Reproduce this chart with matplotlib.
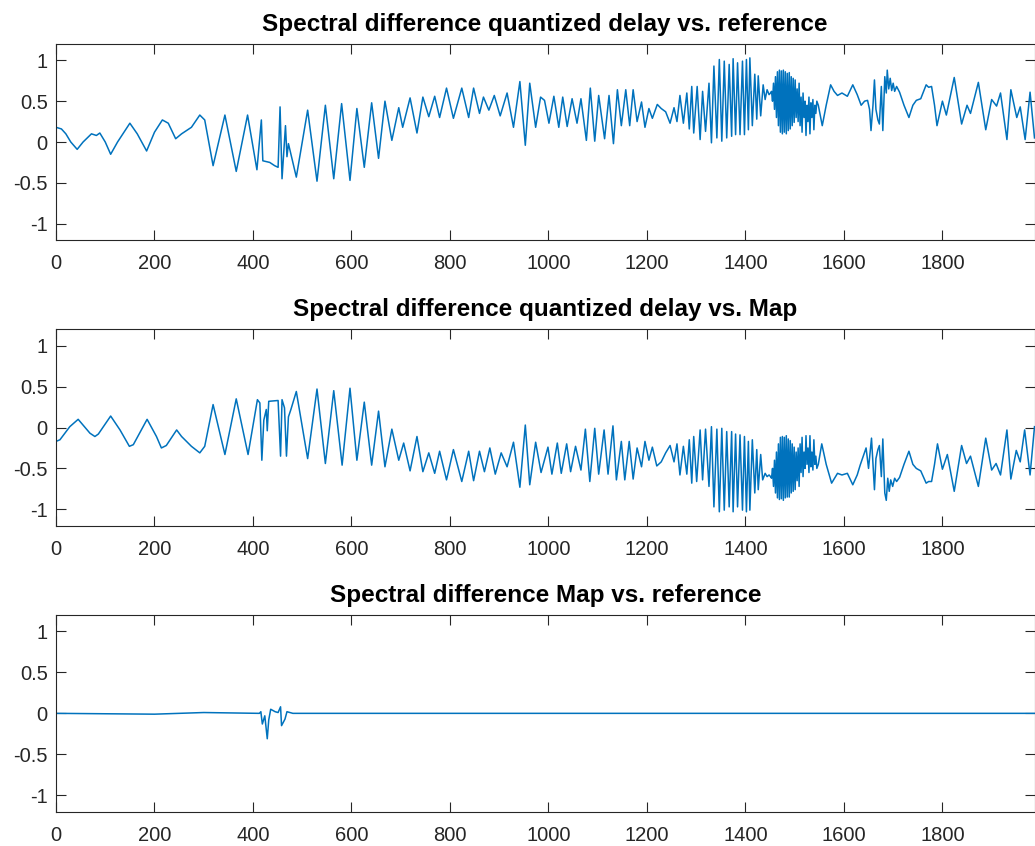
import matplotlib
matplotlib.use("Agg")
import matplotlib.pyplot as plt

titles = ["Spectral difference quantized delay vs. reference",
          "Spectral difference quantized delay vs. Map",
          "Spectral difference Map vs. reference"]
xticks = [0, 200, 400, 600, 800, 1000, 1200, 1400, 1600, 1800]
yticks = [-1, -0.5, 0, 0.5, 1]
ytick_labels = ["-1", "-0.5", "0", "0.5", "1"]

# panel 1: quantized delay vs reference
p1_x = [0, 11, 20, 30, 43, 55, 72, 82, 89, 100, 111, 125, 150, 165, 184, 200, 216, 228, 243, 255,
        275, 292, 302, 319, 343, 366, 389, 408, 417, 420, 434, 444, 451, 455, 459, 466, 469, 472, 488, 511,
        530, 547, 564, 580, 597, 611, 626, 641, 655, 668, 682, 696, 704, 719, 733, 745, 757, 769, 779, 793,
        807, 824, 838, 848, 860, 868, 879, 890, 902, 916, 929, 942, 953, 962, 974, 984, 992, 1001, 1011, 1021,
        1029, 1038, 1048, 1058, 1066, 1077, 1085, 1094, 1102, 1114, 1123, 1132, 1140, 1148, 1157, 1165, 1172, 1180, 1189, 1196,
        1204, 1211, 1221, 1229, 1238, 1247, 1255, 1261, 1267, 1274, 1281, 1286, 1291, 1295, 1302, 1308, 1313, 1319, 1326, 1331,
        1336, 1342, 1347, 1352, 1357, 1362, 1367, 1372, 1375, 1380, 1384, 1389, 1394, 1398, 1402, 1406, 1409, 1414, 1419, 1423,
        1426, 1431, 1436, 1440, 1444, 1448, 1451,
        1453, 1455, 1457, 1459, 1461, 1463, 1465, 1467, 1469, 1471, 1473, 1475, 1477, 1479, 1481, 1483, 1485, 1487, 1489, 1491,
        1493, 1495, 1497, 1499, 1501, 1503,
        1505, 1507, 1509, 1511, 1513, 1515, 1517, 1519, 1521, 1523, 1525, 1527, 1529, 1531, 1533, 1535, 1537, 1539, 1541, 1543, 1545,
        1548, 1556, 1564, 1573, 1580, 1587, 1596, 1607, 1618, 1627, 1635, 1642, 1648, 1652, 1655, 1659, 1662, 1665, 1669, 1672,
        1676, 1679, 1683, 1686, 1688, 1691, 1694, 1697, 1700, 1703, 1707, 1713, 1722, 1732, 1740, 1747, 1756, 1767, 1772, 1778,
        1784, 1789, 1800, 1808, 1824, 1839, 1850, 1857, 1873, 1888, 1900, 1910, 1918, 1931, 1939, 1951, 1958, 1968, 1978, 1987]
p1_y = [0.18, 0.16, 0.10, 0.0, -0.09, 0.0, 0.10, 0.08, 0.11, 0.0, -0.15, 0.0, 0.23, 0.10, -0.11, 0.12, 0.27, 0.23, 0.04, 0.10,
        0.18, 0.33, 0.27, -0.29, 0.33, -0.36, 0.33, -0.34, 0.27, -0.23, -0.25, -0.29, -0.31, 0.43, -0.45, 0.20, -0.18, -0.02, -0.43, 0.39,
        -0.48, 0.45, -0.45, 0.47, -0.47, 0.41, -0.31, 0.48, -0.20, 0.50, 0.02, 0.42, 0.18, 0.54, 0.11, 0.55, 0.31, 0.56, 0.30, 0.66,
        0.29, 0.66, 0.30, 0.66, 0.35, 0.55, 0.39, 0.57, 0.32, 0.60, 0.18, 0.74, -0.04, 0.72, 0.18, 0.55, 0.51, 0.23, 0.56, 0.18,
        0.55, 0.19, 0.53, 0.23, 0.53, 0.02, 0.66, 0.01, 0.57, 0.04, 0.57, -0.02, 0.64, 0.20, 0.64, 0.20, 0.64, 0.25, 0.49, 0.18,
        0.41, 0.29, 0.46, 0.41, 0.37, 0.23, 0.42, 0.25, 0.57, 0.23, 0.60, 0.16, 0.68, 0.11, 0.68, 0.03, 0.62, 0.13, 0.72, -0.01,
        0.93, 0.05, 1.01, 0.01, 0.99, 0.05, 0.95, 0.07, 1.02, 0.09, 0.97, 0.09, 0.99, 0.09, 1.01, 0.15, 1.03, 0.20, 0.83, 0.28,
        0.81, 0.32, 0.70, 0.52, 0.64, 0.58, 0.60,
        0.62, 0.50, 0.72, 0.40, 0.80, 0.30, 0.86, 0.20, 0.88, 0.12, 0.87, 0.10, 0.88, 0.12, 0.86, 0.10, 0.84, 0.14, 0.85, 0.16,
        0.80, 0.20, 0.78, 0.24, 0.76, 0.30,
        0.65, 0.25, 0.72, 0.20, 0.55, 0.12, 0.60, 0.30, 0.50, 0.08, 0.45, 0.25, 0.55, 0.10, 0.48, 0.30, 0.52, 0.15, 0.45, 0.35, 0.50,
        0.45, 0.20, 0.45, 0.70, 0.62, 0.57, 0.60, 0.56, 0.70, 0.58, 0.45, 0.50, 0.51, 0.40, 0.14, 0.45, 0.76, 0.40, 0.27, 0.22,
        0.68, 0.14, 0.80, 0.60, 0.88, 0.65, 0.78, 0.63, 0.72, 0.62, 0.68, 0.61, 0.45, 0.30, 0.45, 0.51, 0.53, 0.70, 0.67, 0.68,
        0.45, 0.20, 0.50, 0.33, 0.79, 0.22, 0.45, 0.35, 0.73, 0.15, 0.52, 0.44, 0.60, 0.03, 0.64, 0.30, 0.43, 0.03, 0.61, 0.05]

# panel 2: quantized delay vs Map
p2_x = [0, 8, 28, 45, 69, 79, 86, 111, 130, 149, 157, 185, 204, 214, 224, 245, 255, 275, 292, 302,
        319, 343, 366, 390, 409, 414, 418, 422, 427, 429, 432, 451, 456, 459, 464, 468, 472, 477, 488, 511,
        530, 547, 564, 581, 597, 611, 626, 641, 655, 668, 682, 696, 706, 719, 733, 745, 757, 769, 779, 793,
        807, 824, 838, 848, 860, 870, 881, 892, 904, 916, 929, 942, 953, 962, 974, 985, 999, 1007, 1018, 1026,
        1037, 1045, 1055, 1066, 1075, 1084, 1094, 1102, 1113, 1121, 1131, 1138, 1148, 1155, 1164, 1172, 1180, 1189, 1196, 1204,
        1211, 1220, 1229, 1238, 1247, 1255, 1261, 1267, 1274, 1281, 1286, 1291, 1295, 1301, 1308, 1313, 1319, 1326, 1331, 1336,
        1342, 1347, 1352, 1357, 1362, 1367, 1372, 1375, 1380, 1384, 1389, 1394, 1398, 1402, 1406, 1409, 1414, 1419, 1423, 1426,
        1431, 1435, 1440, 1444, 1448, 1451,
        1453, 1455, 1457, 1459, 1461, 1463, 1465, 1467, 1469, 1471, 1473, 1475, 1477, 1479, 1481, 1483, 1485, 1487, 1489, 1491,
        1493, 1495, 1497, 1499, 1501, 1503,
        1505, 1507, 1509, 1511, 1513, 1515, 1517, 1519, 1521, 1523, 1525, 1527, 1529, 1531, 1533, 1535, 1537, 1539, 1541, 1543, 1545,
        1548, 1555, 1564, 1575, 1581, 1587, 1596, 1607, 1618, 1627, 1633, 1645, 1650, 1656, 1659, 1662, 1665, 1669, 1672, 1676,
        1679, 1683, 1686, 1689, 1692, 1695, 1699, 1703, 1707, 1713, 1722, 1732, 1740, 1747, 1756, 1767, 1772, 1778, 1784, 1790,
        1800, 1810, 1824, 1839, 1849, 1857, 1873, 1888, 1900, 1909, 1918, 1931, 1939, 1950, 1958, 1967, 1978, 1987]
p2_y = [-0.17, -0.15, 0.01, 0.10, -0.07, -0.11, -0.08, 0.14, -0.03, -0.23, -0.21, 0.10, -0.11, -0.25, -0.22, -0.03, -0.11, -0.23, -0.31, -0.23,
        0.28, -0.33, 0.35, -0.33, 0.34, 0.30, -0.40, 0.09, 0.22, -0.04, 0.32, 0.33, -0.35, 0.34, 0.24, -0.35, 0.13, 0.22, 0.44, -0.38,
        0.47, -0.44, 0.45, -0.46, 0.48, -0.40, 0.31, -0.46, 0.20, -0.48, -0.02, -0.40, -0.19, -0.53, -0.11, -0.54, -0.31, -0.56, -0.29, -0.64,
        -0.27, -0.66, -0.29, -0.65, -0.29, -0.54, -0.25, -0.57, -0.31, -0.48, -0.18, -0.73, 0.03, -0.70, -0.18, -0.55, -0.24, -0.57, -0.19, -0.56,
        -0.20, -0.54, -0.23, -0.52, -0.02, -0.66, -0.01, -0.57, -0.03, -0.57, 0.02, -0.64, -0.17, -0.64, -0.17, -0.63, -0.25, -0.48, -0.17, -0.40,
        -0.24, -0.47, -0.42, -0.31, -0.22, -0.42, -0.20, -0.58, -0.23, -0.57, -0.15, -0.68, -0.11, -0.66, -0.03, -0.64, -0.02, -0.72, 0.01, -0.97,
        -0.02, -1.03, -0.01, -1.01, -0.05, -0.97, -0.05, -1.03, -0.08, -0.97, -0.09, -1.01, -0.11, -1.03, -0.17, -1.01, -0.15, -0.80, -0.27, -0.76,
        -0.33, -0.64, -0.56, -0.60, -0.58, -0.60,
        -0.62, -0.50, -0.72, -0.40, -0.80, -0.30, -0.86, -0.20, -0.88, -0.12, -0.87, -0.11, -0.89, -0.12, -0.86, -0.10, -0.85, -0.14, -0.85, -0.16,
        -0.80, -0.20, -0.78, -0.24, -0.76, -0.30,
        -0.65, -0.25, -0.72, -0.20, -0.55, -0.12, -0.60, -0.30, -0.50, -0.10, -0.45, -0.25, -0.55, -0.10, -0.48, -0.30, -0.52, -0.15, -0.45, -0.35, -0.50,
        -0.45, -0.20, -0.45, -0.68, -0.62, -0.56, -0.58, -0.56, -0.70, -0.58, -0.46, -0.25, -0.50, -0.13, -0.45, -0.76, -0.38, -0.27, -0.22, -0.60,
        -0.14, -0.80, -0.89, -0.62, -0.78, -0.64, -0.72, -0.62, -0.66, -0.61, -0.45, -0.29, -0.45, -0.50, -0.53, -0.68, -0.66, -0.66, -0.45, -0.20,
        -0.51, -0.33, -0.78, -0.22, -0.44, -0.35, -0.72, -0.13, -0.52, -0.44, -0.58, -0.03, -0.63, -0.28, -0.42, -0.03, -0.58, 0.01]

# panel 3: Map vs reference
p3_x = [0, 100, 200, 300, 413, 416, 419, 424, 429, 432, 436, 445, 451, 456, 458, 465, 469, 475, 481, 700, 1000, 1300, 1600, 1987]
p3_y = [0.0, -0.005, -0.01, 0.01, 0.0, 0.02, -0.13, -0.03, -0.31, -0.08, 0.05, 0.02, 0.01, 0.08, -0.15, -0.07, 0.02, 0.01, 0.0, 0.0, 0.0, 0.0, 0.0, 0.0]

series = [(p1_x, p1_y), (p2_x, p2_y), (p3_x, p3_y)]

plt.rcParams['font.family'] = ['Liberation Sans', 'DejaVu Sans']
W, H = 1035, 846
fig = plt.figure(figsize=(W / 100, H / 100), dpi=100)

boxes = [(44, 240), (329.3, 525.7), (615, 811.7)]
left_px, right_px = 56, 1034.5
for (top, bot), (xs, ys), title in zip(boxes, series, titles):
    ax = fig.add_axes([left_px / W, 1 - bot / H, (right_px - left_px) / W, (bot - top) / H])
    ax.plot(xs, ys, color='#0072BD', linewidth=1.1)
    ax.set_xlim(0, 1987)
    ax.set_ylim(-1.2, 1.2)
    ax.set_xticks(xticks)
    ax.set_yticks(yticks)
    ax.set_yticklabels(ytick_labels)
    ax.tick_params(direction='in', length=7.5, width=0.8, colors='#262626',
                   labelsize=14.5, top=True, right=True)
    ax.tick_params(axis='x', pad=10)
    ax.tick_params(axis='y', pad=6)
    for s in ax.spines.values():
        s.set_color('#262626')
        s.set_linewidth(0.8)
    ax.set_title(title, fontsize=17.5, fontweight='bold', pad=9.6)

fig.savefig('out.png', dpi=100)
